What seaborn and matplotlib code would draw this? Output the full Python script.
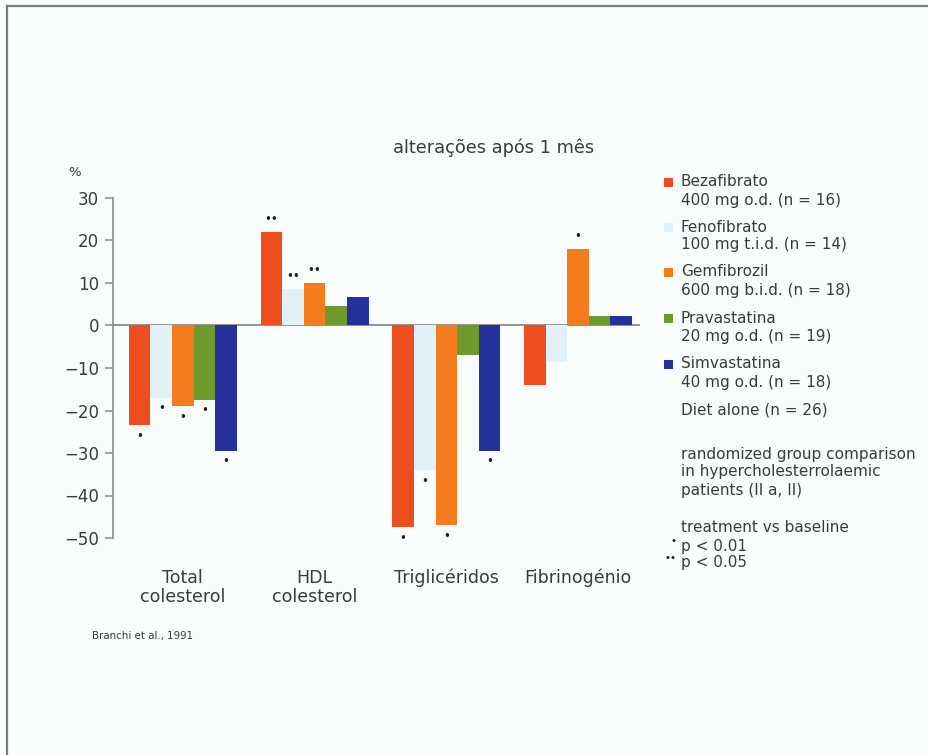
import matplotlib
matplotlib.use("Agg")
import matplotlib.pyplot as plt
from matplotlib.patches import Rectangle
from matplotlib.lines import Line2D
import seaborn as sns
import pandas as pd

# ---------------- data ----------------
categories = ["Total\ncolesterol", "HDL\ncolesterol", "Triglicéridos", "Fibrinogénio"]
series = ["Bezafibrato", "Fenofibrato", "Gemfibrozil", "Pravastatina", "Simvastatina"]
doses = ["400 mg o.d. (n = 16)", "100 mg t.i.d. (n = 14)", "600 mg b.i.d. (n = 18)",
         "20 mg o.d. (n = 19)", "40 mg o.d. (n = 18)"]
bezafibrato = [-23.5, 22.0, -47.5, -14.0]
fenofibrato = [-17.0, 8.5, -34.0, -8.5]
gemfibrozil = [-19.0, 10.0, -47.0, 18.0]
pravastatina = [-17.5, 4.7, -7.0, 2.2]
simvastatina = [-29.5, 6.7, -29.5, 2.2]
# significance markers ("*" p<0.01, "**" p<0.05)
sig_bezafibrato = ["*", "**", "*", ""]
sig_fenofibrato = ["*", "**", "*", ""]
sig_gemfibrozil = ["*", "**", "*", "*"]
sig_pravastatina = ["*", "", "", ""]
sig_simvastatina = ["*", "", "*", ""]
yticks = [30, 20, 10, 0, -10, -20, -30, -40, -50]

colors = ["#ee4d1f", "#e2f1f9", "#f57b1f", "#6f9a2b", "#25309a"]
values = [bezafibrato, fenofibrato, gemfibrozil, pravastatina, simvastatina]
sigs = [sig_bezafibrato, sig_fenofibrato, sig_gemfibrozil, sig_pravastatina, sig_simvastatina]

rows = []
for s, vals in zip(series, values):
    for c, v in zip(categories, vals):
        rows.append({"category": c, "series": s, "value": v})
df = pd.DataFrame(rows)

# ---------------- figure ----------------
W, H = 929, 755
bg = "#f9fcfd"
txt = "#3a3a3a"
plt.rcParams["font.family"] = ["DejaVu Sans"]
fig = plt.figure(figsize=(W / 100, H / 100), dpi=100, facecolor=bg)

def fx(px):
    return px / W

def fy(py):
    return 1 - py / H

ax_l, ax_r, ax_t, ax_b = 113, 640, 198, 538
ax = fig.add_axes([fx(ax_l), fy(ax_b), fx(ax_r) - fx(ax_l), fy(ax_t) - fy(ax_b)])
ax.set_facecolor(bg)

sns.barplot(data=df, x="category", y="value", hue="series", order=categories,
            hue_order=series, palette=colors, width=0.82, saturation=1,
            errorbar=None, legend=False, ax=ax, linewidth=0)

ax.set_ylim(-50, 30)
ax.set_xlim(-0.53, 3.47)
ax.axhline(0, color="#8a8a8a", lw=1.3, zorder=0.5)

for side in ["top", "right", "bottom"]:
    ax.spines[side].set_visible(False)
ax.spines["left"].set_color("#8a8a8a")
ax.spines["left"].set_linewidth(1.2)
ax.set_yticks(yticks)
ax.set_yticklabels([str(t).replace("-", "\u2212") for t in yticks], fontsize=12, color=txt)
ax.tick_params(axis="y", direction="out", length=6, width=1.1, color="#8a8a8a", pad=4)
ax.set_xticks(range(len(categories)))
ax.set_xticklabels(categories, fontsize=12.5, color=txt, linespacing=1.1, va="top")
ax.tick_params(axis="x", length=0, pad=22)
ax.set_xlabel("")
ax.set_ylabel("")
ax.grid(False)

# significance dots
n_cat = len(categories)
for i, patch in enumerate(ax.patches[: len(series) * n_cat]):
    si, ci = divmod(i, n_cat)
    mark = sigs[si][ci]
    if not mark:
        continue
    xc = patch.get_x() + patch.get_width() / 2
    v = values[si][ci]
    dots = "\u2022" * len(mark)
    off = 9 if v > 0 else -8
    ax.annotate(dots, xy=(xc, v), xytext=(0, off), textcoords="offset points",
                ha="center", va="center", fontsize=8.5, color="#1e1e1e")

# title and unit
fig.text(fx(494), fy(148), "alterações após 1 mês", ha="center", va="center",
         fontsize=12.8, color=txt)
fig.text(fx(68), fy(172), "%", ha="left", va="center", fontsize=9.5, color=txt)

# legend (manual)
lfs = 11
leg_y = [(182, 200), (227, 245), (272, 290), (318, 336), (364, 382)]
for (y1, y2), name, dose, col in zip(leg_y, series, doses, colors):
    fig.patches.append(Rectangle((fx(664), fy(y1 + 5)), fx(9), 9 / H,
                                 transform=fig.transFigure, facecolor=col,
                                 edgecolor="none"))
    fig.text(fx(681), fy(y1), name, ha="left", va="center", fontsize=lfs, color=txt)
    fig.text(fx(681), fy(y2), dose, ha="left", va="center", fontsize=lfs, color=txt)

fig.text(fx(681), fy(410), "Diet alone (n = 26)", ha="left", va="center",
         fontsize=lfs, color=txt)
for yy, line in zip([455, 472, 490], ["randomized group comparison",
                                      "in hypercholesterrolaemic",
                                      "patients (II a, II)"]):
    fig.text(fx(681), fy(yy), line, ha="left", va="center", fontsize=lfs, color=txt)
fig.text(fx(681), fy(527), "treatment vs baseline", ha="left", va="center",
         fontsize=lfs, color=txt)
fig.text(fx(677), fy(541), "\u2022", ha="right", va="center", fontsize=7.5, color="#1e1e1e")
fig.text(fx(681), fy(546), "p < 0.01", ha="left", va="center", fontsize=lfs, color=txt)
fig.text(fx(677), fy(558), "\u2022\u2022", ha="right", va="center", fontsize=7.5, color="#1e1e1e")
fig.text(fx(681), fy(563), "p < 0.05", ha="left", va="center", fontsize=lfs, color=txt)

fig.text(fx(92), fy(636), "Branchi et al., 1991", ha="left", va="center",
         fontsize=7.4, color=txt)

# frame lines (top and left)
fig.add_artist(Line2D([fx(7), 1.0], [fy(6), fy(6)], transform=fig.transFigure,
                      color="#7a7a7a", lw=1.6))
fig.add_artist(Line2D([fx(7), fx(7)], [fy(6), 0.0], transform=fig.transFigure,
                      color="#7a7a7a", lw=1.6))

fig.savefig("out.png", dpi=100, facecolor=bg)
